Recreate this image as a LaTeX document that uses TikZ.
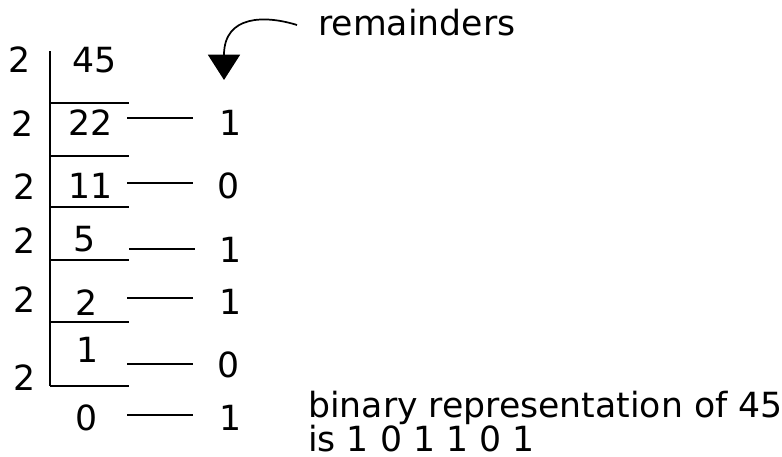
\documentclass[tikz,border=0pt]{standalone}
\usepackage{fontspec}
\setmainfont{DejaVu Sans}
\usetikzlibrary{arrows.meta}
\begin{document}
\begin{tikzpicture}[x=0.75pt,y=-0.75pt,
  every node/.style={inner sep=0pt,font=\fontsize{26}{30}\selectfont},
  rule/.style={line width=1.9pt},
  digit/.style={anchor=center},
  txt/.style={anchor=base west}]
\useasboundingbox (0,0) rectangle (782,457);
% divisors
\node[digit] (d1) at (20,60) {2};
\node[digit] (d2) at (23,124) {2};
\node[digit] (d3) at (25,187) {2};
\node[digit] (d4) at (25,241) {2};
\node[digit] (d5) at (25,300) {2};
\node[digit] (d6) at (25,378) {2};
% quotients
\node[digit] (q1) at (95,60) {45};
\node[digit] (q2) at (91,123) {22};
\node[digit] (q3) at (91,186) {11};
\node[digit] (q4) at (85,239) {5};
\node[digit] (q5) at (87,303) {2};
\node[digit] (q6) at (88,350) {1};
\node[digit] (q7) at (87,418) {0};
% remainders
\node[digit] (r1) at (231,123) {1};
\node[digit] (r2) at (229,186) {0};
\node[digit] (r3) at (231,250) {1};
\node[digit] (r4) at (231,302) {1};
\node[digit] (r5) at (229,365) {0};
\node[digit] (r6) at (231,418) {1};
% division frame
\draw[rule] (50,51) -- (50,386);
\foreach \y in {103,156,207,260,322,386} \draw[rule] (50,\y) -- (129,\y);
% remainder connectors
\coordinate (a1) at (127,118); \coordinate (b1) at (193,118);
\coordinate (a2) at (127,183); \coordinate (b2) at (193,183);
\coordinate (a3) at (129,249); \coordinate (b3) at (195,249);
\coordinate (a4) at (127,298); \coordinate (b4) at (193,298);
\coordinate (a5) at (127,364); \coordinate (b5) at (193,364);
\coordinate (a6) at (127,415); \coordinate (b6) at (193,415);
\foreach \i in {1,...,6} \draw[rule] (a\i) -- (b\i);
% label and arrow
\node[txt] (rem) at (318,35) {remainders};
\coordinate (arrS) at (297,25);
\coordinate (arrE) at (224,80);
\draw[line width=1.3pt,-{Triangle[width=24pt,length=19pt]}] (arrS) .. controls (265,15) and (224,15) .. (arrE);
% result text
\node[txt] (bin1) at (308,417) {binary representation of 45};
\node[txt] (bin2) at (308,451) {is 1 0 1 1 0 1};
\end{tikzpicture}
\end{document}
